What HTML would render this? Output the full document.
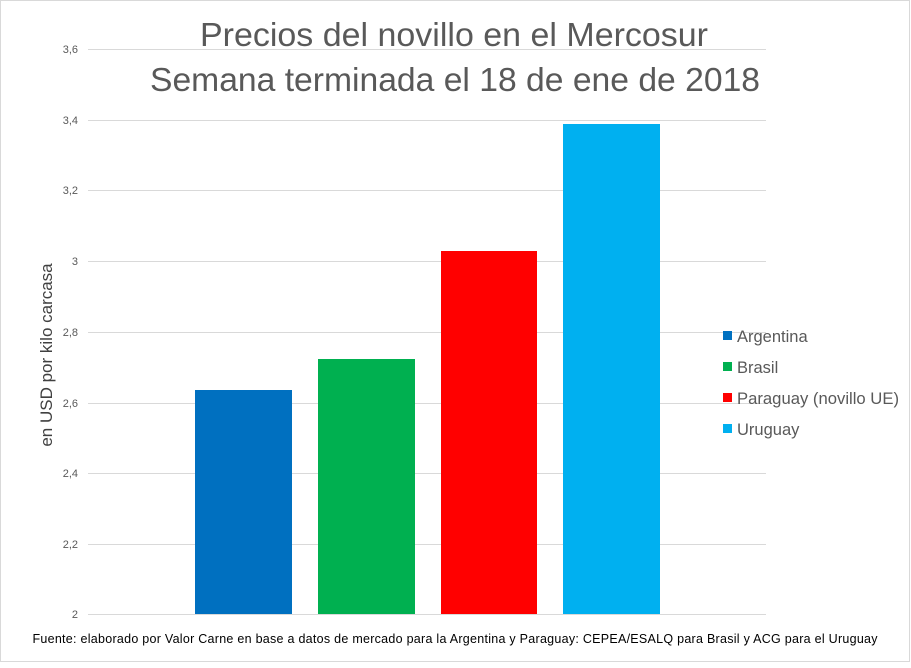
<!DOCTYPE html>
<html><head><meta charset="utf-8"><style>
body{margin:0;width:911px;height:663px;background:#fff;overflow:hidden;font-family:"Liberation Sans",sans-serif}
</style></head><body>
<svg width="911" height="663" xmlns="http://www.w3.org/2000/svg" font-family="Liberation Sans, sans-serif">
<rect x="0.5" y="0.5" width="909" height="661" fill="#fff" stroke="#d9d9d9"/>
<g stroke="#d9d9d9" stroke-width="1">
<line x1="88" x2="766" y1="49.5" y2="49.5"/>
<line x1="88" x2="766" y1="120.5" y2="120.5"/>
<line x1="88" x2="766" y1="190.5" y2="190.5"/>
<line x1="88" x2="766" y1="261.5" y2="261.5"/>
<line x1="88" x2="766" y1="332.5" y2="332.5"/>
<line x1="88" x2="766" y1="403.5" y2="403.5"/>
<line x1="88" x2="766" y1="473.5" y2="473.5"/>
<line x1="88" x2="766" y1="544.5" y2="544.5"/>
<line x1="88" x2="766" y1="614.5" y2="614.5"/>
</g>
<g font-size="11" fill="#595959" text-anchor="end">
<text x="78" y="53">3,6</text><text x="78" y="124">3,4</text><text x="78" y="194">3,2</text>
<text x="78" y="265">3</text><text x="78" y="336">2,8</text><text x="78" y="407">2,6</text>
<text x="78" y="477">2,4</text><text x="78" y="548">2,2</text><text x="78" y="618">2</text>
</g>
<rect x="195" y="390" width="97" height="224" fill="#0070c0"/>
<rect x="318" y="359" width="97" height="255" fill="#00b050"/>
<rect x="441" y="251" width="96" height="363" fill="#ff0000"/>
<rect x="563" y="124" width="97" height="490" fill="#00b0f0"/>
<g font-size="33.5" fill="#595959" text-anchor="middle">
<text x="454" y="46" textLength="508" lengthAdjust="spacingAndGlyphs">Precios del novillo en el Mercosur</text>
<text x="455" y="91" textLength="610" lengthAdjust="spacingAndGlyphs">Semana terminada el 18 de ene de 2018</text>
</g>
<text transform="translate(52,355) rotate(-90)" font-size="17" fill="#404040" text-anchor="middle">en USD por kilo carcasa</text>
<g font-size="16.5" fill="#595959">
<rect x="723" y="331" width="9" height="9" fill="#0070c0"/><text x="737" y="342">Argentina</text>
<rect x="723" y="362" width="9" height="9" fill="#00b050"/><text x="737" y="373">Brasil</text>
<rect x="723" y="393" width="9" height="9" fill="#ff0000"/><text x="737" y="404" textLength="162" lengthAdjust="spacingAndGlyphs">Paraguay (novillo UE)</text>
<rect x="723" y="424" width="9" height="9" fill="#00b0f0"/><text x="737" y="435">Uruguay</text>
</g>
<text x="455" y="643" font-size="12.5" fill="#000" text-anchor="middle" textLength="845">Fuente: elaborado por Valor Carne en base a datos de mercado para la Argentina y Paraguay: CEPEA/ESALQ para Brasil y ACG para el Uruguay</text>
</svg>
</body></html>
